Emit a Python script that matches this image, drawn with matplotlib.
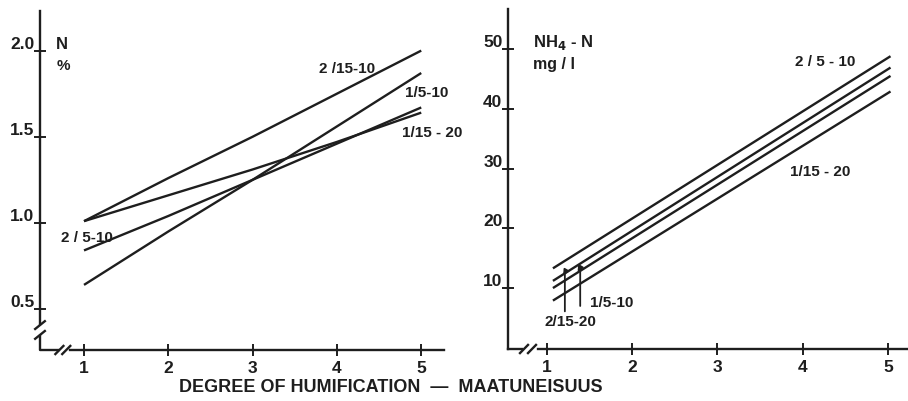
import matplotlib.pyplot as plt
from matplotlib import font_manager

# ---- data ----
# left panel: total nitrogen, %
n_x = [1, 2, 3, 4, 5]
n_2_15_10 = [1.01, 1.26, 1.50, 1.75, 2.00]
n_1_5_10 = [0.64, 0.95, 1.25, 1.56, 1.87]
n_2_5_10 = [0.84, 1.04, 1.25, 1.46, 1.67]
n_1_15_20 = [1.01, 1.16, 1.31, 1.47, 1.64]

# right panel: NH4-N, mg/l
nh_x = [1.07, 5.03]
nh_2_5_10 = [13.3, 48.8]
nh_2_15_20 = [11.2, 46.9]
nh_1_5_10 = [10.0, 45.5]
nh_1_15_20 = [7.9, 42.9]

xticks = [1, 2, 3, 4, 5]
n_yticks = [0.5, 1.0, 1.5, 2.0]
n_yticklabels = ["0.5", "1.0", "1.5", "2.0"]
nh_yticks = [10, 20, 30, 40, 50]

installed = {f.name for f in font_manager.fontManager.ttflist}
fam = [f for f in ["Liberation Sans Narrow", "Liberation Sans", "DejaVu Sans"] if f in installed]
plt.rcParams['font.family'] = fam
plt.rcParams['font.weight'] = 'bold'

ink = "#1e1e1e"
lw = 1.7

fig = plt.figure(figsize=(9.08, 4.02), dpi=100)
W, H = 908, 402


def px_axes(x0, y0, x1, y1):
    # pixel box (top-left origin) -> figure fraction
    return fig.add_axes([x0 / W, 1 - y1 / H, (x1 - x0) / W, (y1 - y0) / H])


ax1 = px_axes(40, 12, 444, 351)
ax2 = px_axes(508, 10, 908, 350)

ax1.set_xlim(0.478, 5.27)
ax1.set_ylim(0.262, 2.23)
ax2.set_xlim(0.543, 5.235)
ax2.set_ylim(-0.2, 56.7)

for ax in (ax1, ax2):
    for s in ax.spines.values():
        s.set_visible(False)
    ax.set_xticks(xticks)
    ax.set_xticklabels([str(t) for t in xticks], fontsize=12.5)
    ax.tick_params(direction='inout', length=8, width=1.4, color=ink,
                   labelcolor=ink, pad=3)
    ax.tick_params(axis='y', pad=0)

ax1.set_yticks(n_yticks)
ax1.set_yticklabels(n_yticklabels, fontsize=12.5)
ax2.set_yticks(nh_yticks)
ax2.set_yticklabels([str(t) for t in nh_yticks], fontsize=12.5)
for ax in (ax1, ax2):
    for lab in ax.get_yticklabels():
        lab.set_va('bottom')


def axline(ax, xs, ys):
    ax.plot(xs, ys, color=ink, lw=lw, transform=ax.transAxes, clip_on=False)


# left panel axes with breaks
axline(ax1, [0, 0], [0.077, 1.0])
axline(ax1, [0, 0, 0.045], [0.041, 0, 0])
axline(ax1, [0.074, 1.0], [0, 0])
axline(ax1, [-0.012, 0.012], [0.062, 0.085])
axline(ax1, [-0.012, 0.012], [0.033, 0.056])
axline(ax1, [0.038, 0.058], [-0.012, 0.012])
axline(ax1, [0.055, 0.075], [-0.012, 0.012])

# right panel axes
axline(ax2, [0, 0], [0, 1.0])
axline(ax2, [0, 0.035], [0, 0])
axline(ax2, [0.075, 1.0], [0, 0])
axline(ax2, [0.03, 0.05], [-0.012, 0.012])
axline(ax2, [0.05, 0.07], [-0.012, 0.012])

# lines
for ys in (n_2_15_10, n_1_5_10, n_2_5_10, n_1_15_20):
    ax1.plot(n_x, ys, color=ink, lw=lw, solid_capstyle='butt')
for ys in (nh_2_5_10, nh_2_15_20, nh_1_5_10, nh_1_15_20):
    ax2.plot(nh_x, ys, color=ink, lw=lw, solid_capstyle='butt')

fs = 11
ax1.text(4.12, 1.90, "2 /15-10", fontsize=fs, ha='center', va='center', color=ink)
ax1.text(5.06, 1.76, "1/5-10", fontsize=fs, ha='center', va='center', color=ink)
ax1.text(5.13, 1.53, "1/15 - 20", fontsize=fs, ha='center', va='center', color=ink)
ax1.text(1.03, 0.92, "2 / 5-10", fontsize=fs, ha='center', va='center', color=ink)

ax2.text(4.26, 48.0, "2 / 5 - 10", fontsize=fs, ha='center', va='center', color=ink)
ax2.text(4.21, 29.6, "1/15 - 20", fontsize=fs, ha='center', va='center', color=ink)
ax2.text(1.50, 7.7, "1/5-10", fontsize=fs, ha='left', va='center', color=ink)
ax2.text(1.27, 4.5, "2/15-20", fontsize=fs, ha='center', va='center', color=ink)

arrow = dict(arrowstyle='-|>', color=ink, lw=1.3, mutation_scale=8,
             connectionstyle='angle,angleA=90,angleB=60,rad=0', shrinkA=0, shrinkB=0)
ax2.annotate("", xy=(1.19, 12.1), xytext=(1.21, 6.1), arrowprops=arrow)
ax2.annotate("", xy=(1.36, 12.7), xytext=(1.39, 7.0), arrowprops=arrow)

# axis titles
ax1.text(0.04, 0.903, "N", transform=ax1.transAxes, fontsize=12, va='center', color=ink)
ax1.text(0.04, 0.84, "%", transform=ax1.transAxes, fontsize=11, va='center', color=ink)
ax2.text(0.0625, 0.903, "NH$_4$ - N", transform=ax2.transAxes, fontsize=12,
         va='center', color=ink)
ax2.text(0.0625, 0.841, "mg / l", transform=ax2.transAxes, fontsize=11.5,
         va='center', color=ink)

fig.text(391 / W, 1 - 388 / H, "DEGREE OF HUMIFICATION  \u2014  MAATUNEISUUS",
         ha='center', va='center', fontsize=13, color=ink)

fig.savefig("out.png", dpi=100)
